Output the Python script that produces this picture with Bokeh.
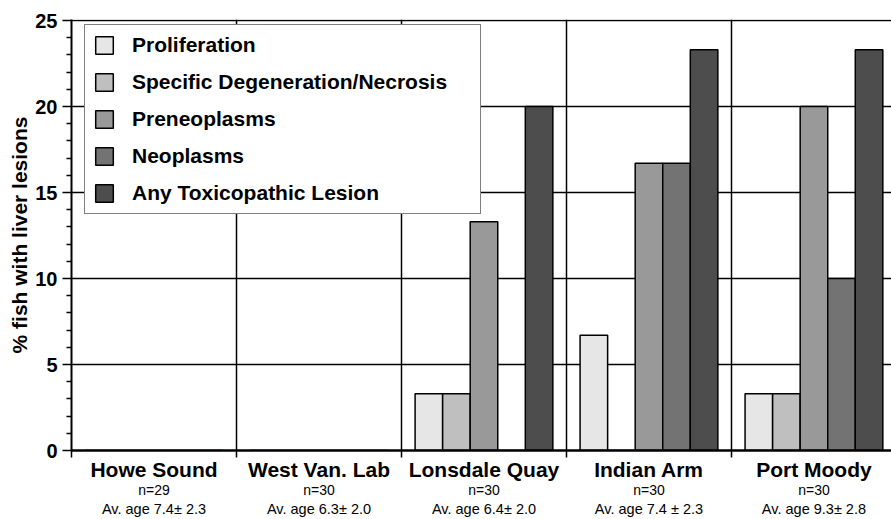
from bokeh.plotting import figure
from bokeh.models import Range1d, FixedTicker, Legend, LegendItem, LinearAxis
from bokeh.embed import file_html
from bokeh.resources import INLINE

groups = ["Howe Sound", "West Van. Lab", "Lonsdale Quay", "Indian Arm", "Port Moody"]
n_labels = ["n=29", "n=30", "n=30", "n=30", "n=30"]
age_labels = ["Av. age 7.4\u00b1 2.3", "Av. age 6.3\u00b1 2.0", "Av. age 6.4\u00b1 2.0",
              "Av. age 7.4 \u00b1 2.3", "Av. age 9.3\u00b1 2.8"]

series_names = ["Proliferation", "Specific Degeneration/Necrosis", "Preneoplasms",
                "Neoplasms", "Any Toxicopathic Lesion"]
proliferation = [0, 0, 3.3, 6.7, 3.3]
degeneration = [0, 0, 3.3, 0, 3.3]
preneoplasms = [0, 0, 13.3, 16.7, 20.0]
neoplasms = [0, 0, 0, 16.7, 10.0]
any_lesion = [0, 0, 20.0, 23.3, 23.3]
series_values = [proliferation, degeneration, preneoplasms, neoplasms, any_lesion]
colors = ["#e6e6e6", "#bfbfbf", "#999999", "#737373", "#4d4d4d"]

y_ticks = [0, 5, 10, 15, 20, 25]

FONT = "Liberation Sans"

p = figure(width=891, height=519, output_backend="svg", toolbar_location=None,
           x_range=Range1d(0, 4.97), y_range=Range1d(0, 25.06),
           min_border_left=71, min_border_right=0, min_border_top=19, min_border_bottom=68)
p.outline_line_color = None
p.background_fill_color = "white"

bar_w = 0.167
items = []
for k, (name, vals, col) in enumerate(zip(series_names, series_values, colors)):
    xs = [i + 0.5 + (k - 2) * bar_w for i in range(len(groups))]
    r = p.vbar(x=xs, top=vals, width=bar_w, bottom=0, fill_color=col,
               line_color="black", line_width=1.5)
    items.append(LegendItem(label=name, renderers=[r]))

legend = Legend(items=items, location=(13, 236))
legend.label_text_font = FONT
legend.label_text_font_style = "bold"
legend.label_text_font_size = "21px"
legend.label_text_color = "black"
legend.glyph_width = 22
legend.glyph_height = 22
legend.label_height = 22
legend.label_width = 340
legend.label_standoff = 17
legend.spacing = 13
legend.padding = 8
legend.margin = 0
legend.border_line_color = "black"
legend.border_line_width = 1.2
legend.background_fill_alpha = 1.0
p.add_layout(legend)

# grid
p.xgrid.ticker = FixedTicker(ticks=[1, 2, 3, 4])
p.xgrid.grid_line_color = "black"
p.xgrid.grid_line_width = 1.5
p.ygrid.ticker = FixedTicker(ticks=[5, 10, 15, 20, 25])
p.ygrid.grid_line_color = "black"
p.ygrid.grid_line_width = 1.5

# x axis (boundary ticks only)
bounds = [0, 1, 2, 3, 4, 5]
p.xaxis.ticker = FixedTicker(ticks=bounds)
p.xaxis.major_label_overrides = {b: "" for b in bounds}
p.xaxis.major_label_text_font_size = "1px"
p.xaxis.major_label_standoff = 0
p.xaxis.major_tick_out = 7
p.xaxis.major_tick_in = 0
p.xaxis.major_tick_line_width = 1.5
p.xaxis.minor_tick_line_color = None
p.xaxis.axis_line_width = 2.5
p.xaxis.axis_line_color = "black"

centers = [i + 0.5 for i in range(len(groups))]


def label_axis(labels, size, style, standoff):
    ax = LinearAxis(ticker=FixedTicker(ticks=centers),
                    major_label_overrides={c: t for c, t in zip(centers, labels)})
    ax.axis_line_color = None
    ax.major_tick_line_color = None
    ax.minor_tick_line_color = None
    ax.major_tick_out = 0
    ax.major_tick_in = 0
    ax.major_label_standoff = standoff
    ax.major_label_text_font = FONT
    ax.major_label_text_font_size = size
    ax.major_label_text_font_style = style
    ax.major_label_text_color = "black"
    p.add_layout(ax, "below")
    return ax


label_axis(groups, "21px", "bold", 0)
label_axis(n_labels, "14px", "normal", -2)
label_axis(age_labels, "14.5px", "normal", 0)

# y axis
p.yaxis.ticker = FixedTicker(ticks=y_ticks, minor_ticks=[v for v in range(0, 26) if v % 5])
p.yaxis.major_tick_out = 9
p.yaxis.major_tick_in = 0
p.yaxis.minor_tick_out = 5
p.yaxis.minor_tick_in = 0
p.yaxis.major_tick_line_width = 1.5
p.yaxis.minor_tick_line_width = 1.5
p.yaxis.axis_line_width = 2
p.yaxis.major_label_text_font = FONT
p.yaxis.major_label_text_font_style = "bold"
p.yaxis.major_label_text_font_size = "20px"
p.yaxis.major_label_text_color = "black"
p.yaxis.major_label_standoff = 5
p.yaxis.axis_label = "% fish with liver lesions"
p.yaxis.axis_label_text_font = FONT
p.yaxis.axis_label_text_font_style = "bold"
p.yaxis.axis_label_text_font_size = "21px"
p.yaxis.axis_label_text_color = "black"
p.yaxis.axis_label_standoff = 1

open("out.html", "w").write(file_html(p, INLINE))
